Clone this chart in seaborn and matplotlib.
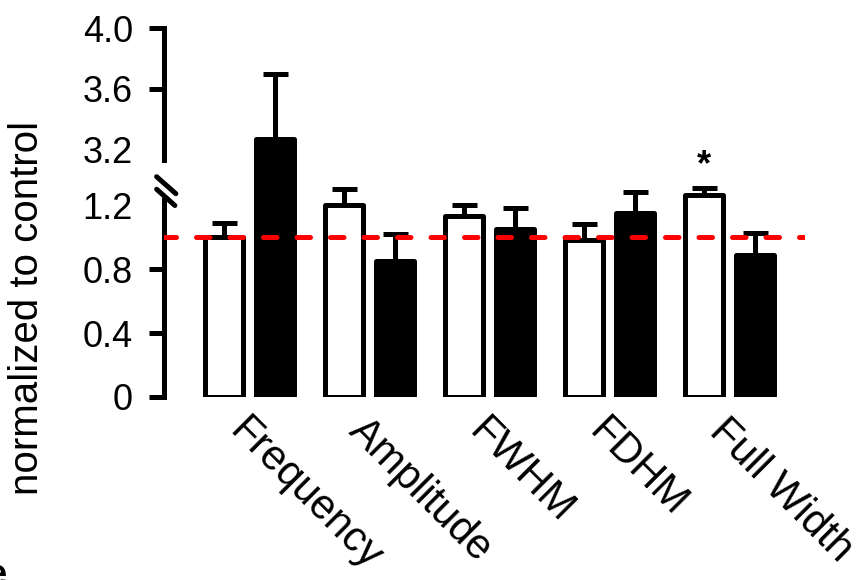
import numpy as np
import pandas as pd
import matplotlib
matplotlib.use('Agg')
import matplotlib.pyplot as plt
import seaborn as sns

# values
measures = ['Frequency', 'Amplitude', 'FWHM', 'FDHM', 'Full Width']
ctrl = [1.00, 1.20, 1.13, 0.98, 1.26]
ctrl_err = [0.09, 0.10, 0.07, 0.10, 0.08]
treat = [3.27, 0.85, 1.05, 1.15, 0.89]
treat_err = [0.43, 0.17, 0.13, 0.13, 0.135]
yticks = [0, 0.4, 0.8, 1.2, 3.2, 3.6, 4.0]
ytick_labels = ['0', '0.4', '0.8', '1.2', '3.2', '3.6', '4.0']

df = pd.DataFrame({
    'measure': measures * 2,
    'group': ['ctrl'] * 5 + ['treat'] * 5,
    'value': ctrl + treat,
})

sns.set_style('ticks')
plt.rcParams['font.family'] = ['Liberation Sans', 'DejaVu Sans']
plt.rcParams.update({'text.color': 'black', 'xtick.color': 'black', 'ytick.color': 'black',
                     'axes.edgecolor': 'black', 'axes.labelcolor': 'black'})

LW = 3.6

# broken y axis: 0..1.3 and 3.2..4.0 on one piecewise scale
LO, HI, F_HI, K = 1.30, 3.20, 1.544, 0.953


def fwd(y):
    y = np.asarray(y, dtype=float)
    mid = LO + (y - LO) * (F_HI - LO) / (HI - LO)
    return np.where(y <= LO, y, np.where(y >= HI, F_HI + (y - HI) * K, mid))


def inv(f):
    f = np.asarray(f, dtype=float)
    mid = LO + (f - LO) * (HI - LO) / (F_HI - LO)
    return np.where(f <= LO, f, np.where(f >= F_HI, HI + (f - F_HI) / K, mid))


fig = plt.figure(figsize=(8.67, 5.8), dpi=100)
ax = fig.add_axes([164 / 867, 183 / 580, 641 / 867, 369 / 580])

sns.barplot(data=df, x='measure', y='value', hue='group', palette=['white', 'black'],
            edgecolor='black', linewidth=LW, width=0.85, gap=0.255, errorbar=None,
            legend=False, ax=ax, saturation=1)
for bar in ax.patches:
    bar.set_joinstyle('round')

ax.set_yscale('function', functions=(fwd, inv))
ax.set_ylim(0, 4.0)
ax.set_xlim(-0.7125, 4.629)

# error bars (upper only)
for cont, err in zip(ax.containers, [ctrl_err, treat_err]):
    xs = [p.get_x() + p.get_width() / 2 for p in cont]
    ys = [p.get_height() for p in cont]
    ax.errorbar(xs, ys, yerr=[np.zeros(len(err)), err], fmt='none', ecolor='black',
                elinewidth=LW, capsize=9, capthick=LW, zorder=4)

# significance star on Full Width control
p = ax.containers[0][4]
ax.annotate('*', (p.get_x() + p.get_width() / 2, ctrl[4] + ctrl_err[4]),
            xytext=(0, 16), textcoords='offset points', ha='center', va='center',
            fontsize=26, fontweight='bold')

# red dashed reference line at 1
ax.axhline(1.0, color='red', lw=LW, ls=(0.3, (2.7, 4.0)), dash_capstyle='round', zorder=6)

# axes styling
for s in ['top', 'right', 'bottom']:
    ax.spines[s].set_visible(False)
ax.spines['left'].set_linewidth(LW)
ax.spines['left'].set_bounds(0, 1.23)
trans = ax.transAxes
ax.plot([0, 0], [(397 - 160) / 369, 1.0], color='black', lw=LW, transform=trans,
        clip_on=False, solid_capstyle='projecting')
ax.plot([-0.0115, 0.0185], [0.597, 0.551], color='black', lw=LW, transform=trans, clip_on=False)
ax.plot([-0.0115, 0.0170], [0.563, 0.519], color='black', lw=LW, transform=trans, clip_on=False)

ax.set_yticks(yticks)
ax.set_yticklabels(ytick_labels, fontsize=26)
ax.tick_params(axis='y', length=10.5, width=LW, pad=12)
for i in (3, 4):
    ax.yaxis.get_major_ticks()[i].tick1line.set_visible(False)

ax.set_xticks(range(len(measures)))
ax.set_xticklabels(measures, fontsize=30, rotation=-45, ha='left', va='top',
                   rotation_mode='anchor')
ax.tick_params(axis='x', length=0, pad=10)
ax.set_xlabel('')
ax.set_ylabel('')
fig.text(27 / 867, 1 - 308 / 580, 'normalized to control', rotation=90,
         ha='center', va='center', fontsize=29)

# cut-off panel letter at the bottom left
fig.text(7 / 867, -5 / 580, 'e', ha='right', va='baseline', fontsize=26, fontweight='bold')

plt.savefig('out.png', dpi=100)
